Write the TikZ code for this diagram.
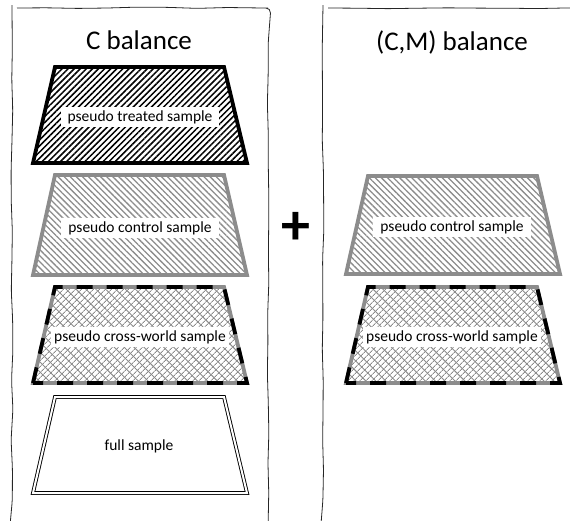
\documentclass[tikz,border=0pt]{standalone}
\usepackage{fontspec}
\setmainfont{Carlito}
\usetikzlibrary{patterns.meta,decorations.pathmorphing}
\definecolor{midgray}{RGB}{140,140,140}
\tikzset{
  panel/.style={draw=black!85, line width=0.8pt, decorate,
    decoration={random steps,segment length=30pt,amplitude=0.9pt}, rounded corners=5pt},
  title/.style={font=\fontsize{27}{30}\selectfont, inner sep=0pt},
  lbl/.style={fill=white, inner xsep=7pt, inner ysep=3.5pt, font=\fontsize{15.5}{18}\selectfont},
  treated/.style={line width=3.8pt, draw=black, line join=miter,
    pattern={Lines[angle=45,distance=4.3pt,line width=1.5pt]}, pattern color=black},
  control/.style={line width=3.8pt, draw=midgray, line join=miter,
    pattern={Lines[angle=-45,distance=4.3pt,line width=1.3pt]}, pattern color=midgray},
  crossA/.style={pattern={Lines[angle=45,distance=4pt,line width=0.9pt]}, pattern color=midgray},
  crossB/.style={pattern={Lines[angle=-45,distance=7pt,line width=0.9pt]}, pattern color=midgray},
  crossgray/.style={line width=3.8pt, draw=midgray, line join=miter},
  crossblack/.style={line width=3.8pt, draw=black, dash pattern=on 16pt off 14pt},
  fullbox/.style={draw=black, line width=0.9pt, double=white, double distance=2pt, line join=miter},
}
\newcommand{\trapeze}[3]{% xshift, top y, bottom y
  (#1+33,#3) -- (#1+55,#2) -- (#1+224,#2) -- (#1+247,#3) -- cycle}
\begin{document}
\begin{tikzpicture}[x=1pt,y=-1pt]
\useasboundingbox (0,0) rectangle (570,520);
\clip (0,0) rectangle (570,520);
\pgfmathsetseed{7}
% panels
\draw[panel] (12,8) -- (268,8) -- (268,535) -- (12,535) -- cycle;
\draw[panel] (323,8) -- (600,8) -- (600,535) -- (323,535) -- cycle;
\node[title] (t1) at (139,40) {C balance};
\node[title] (t2) at (452,42) {(C,M) balance};
% left panel
\draw[treated] \trapeze{0}{67}{163};
\node[lbl] (l1) at (140,117) {pseudo treated sample};
\draw[control] \trapeze{0}{175}{275};
\node[lbl] (l2) at (140,228) {pseudo control sample};
\fill[crossA] \trapeze{0}{287}{383};
\fill[crossB] \trapeze{0}{287}{383};
\draw[crossgray] \trapeze{0}{287}{383};
\draw[crossblack] \trapeze{0}{287}{383};
\node[lbl, inner xsep=3pt] (l3) at (140,337) {pseudo cross-world sample};
\draw[fullbox] \trapeze{0}{397}{493};
\node[font=\fontsize{15.5}{18}\selectfont] (l4) at (139,446) {full sample};
% right panel
\draw[control] \trapeze{313}{176}{274};
\node[lbl] (r2) at (452,227) {pseudo control sample};
\fill[crossA] \trapeze{313}{287}{383};
\fill[crossB] \trapeze{313}{287}{383};
\draw[crossgray] \trapeze{313}{287}{383};
\draw[crossblack] \trapeze{313}{287}{383};
\node[lbl, inner xsep=3pt] (r3) at (452,337) {pseudo cross-world sample};
% plus
\node[font=\fontsize{58}{60}\selectfont\bfseries, inner sep=0pt] (plus) at (296,228) {+};
\end{tikzpicture}
\end{document}
